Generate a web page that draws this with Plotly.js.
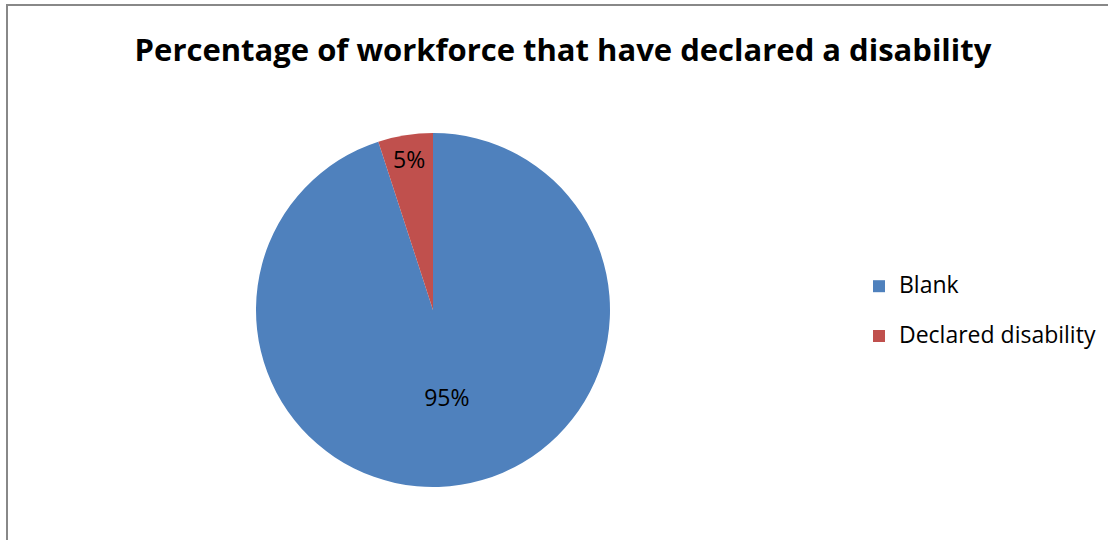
<!DOCTYPE html>
<html>
<head>
<meta charset="utf-8">
<script src="https://cdn.plot.ly/plotly-3.0.1.min.js"></script>
<style>
html,body{margin:0;padding:0;background:#fff;}
#chart{width:1108px;height:540px;}
</style>
</head>
<body>
<div id="chart"></div>
<script>
const labels = ["Blank", "Declared disability"];
const values = [95, 5];
const colors = ["#4F81BD", "#C0504D"];
const chartTitle = "Percentage of workforce that have declared a disability";

const W = 1108, H = 540;
const cx = 433, cy = 310, r = 177;

const trace = {
  type: "pie",
  labels: labels.map(l => "<span style='font-size:23px'>" + l + "</span><br> "),
  values: values,
  sort: false,
  direction: "clockwise",
  rotation: 0,
  marker: {colors: colors, line: {color: "#ffffff", width: 0}},
  textinfo: "percent",
  texttemplate: "%{percent:.0%}",
  textposition: "inside",
  insidetextorientation: "horizontal",
  textfont: {family: "Open Sans", size: 23, color: "#000000"},
  hoverinfo: "none",
  domain: {x: [(cx - r) / W, (cx + r) / W], y: [(H - cy - r) / H, (H - cy + r) / H]}
};

const layout = {
  width: W, height: H,
  margin: {l: 0, r: 0, t: 0, b: 0},
  paper_bgcolor: "#ffffff",
  showlegend: true,
  title: {text: "<b>" + chartTitle + "</b>", font: {family: "Open Sans", size: 31, color: "#000000"},
          x: 563 / W, xanchor: "center", y: 1 - 50 / H, yanchor: "middle"},
  legend: {x: 859 / W, xanchor: "left", y: 1 - 268 / H, yanchor: "top", valign: "top",
           font: {family: "Open Sans", size: 18, color: "#000000"}, itemwidth: 30},
  shapes: [{type: "rect", xref: "paper", yref: "paper", x0: 7 / W, x1: 1.05, y0: -0.05, y1: 1 - 5 / H,
            line: {color: "#888888", width: 2}, fillcolor: "rgba(0,0,0,0)"}]
};

Plotly.newPlot("chart", [trace], layout, {displayModeBar: false, staticPlot: true});
</script>
</body>
</html>
